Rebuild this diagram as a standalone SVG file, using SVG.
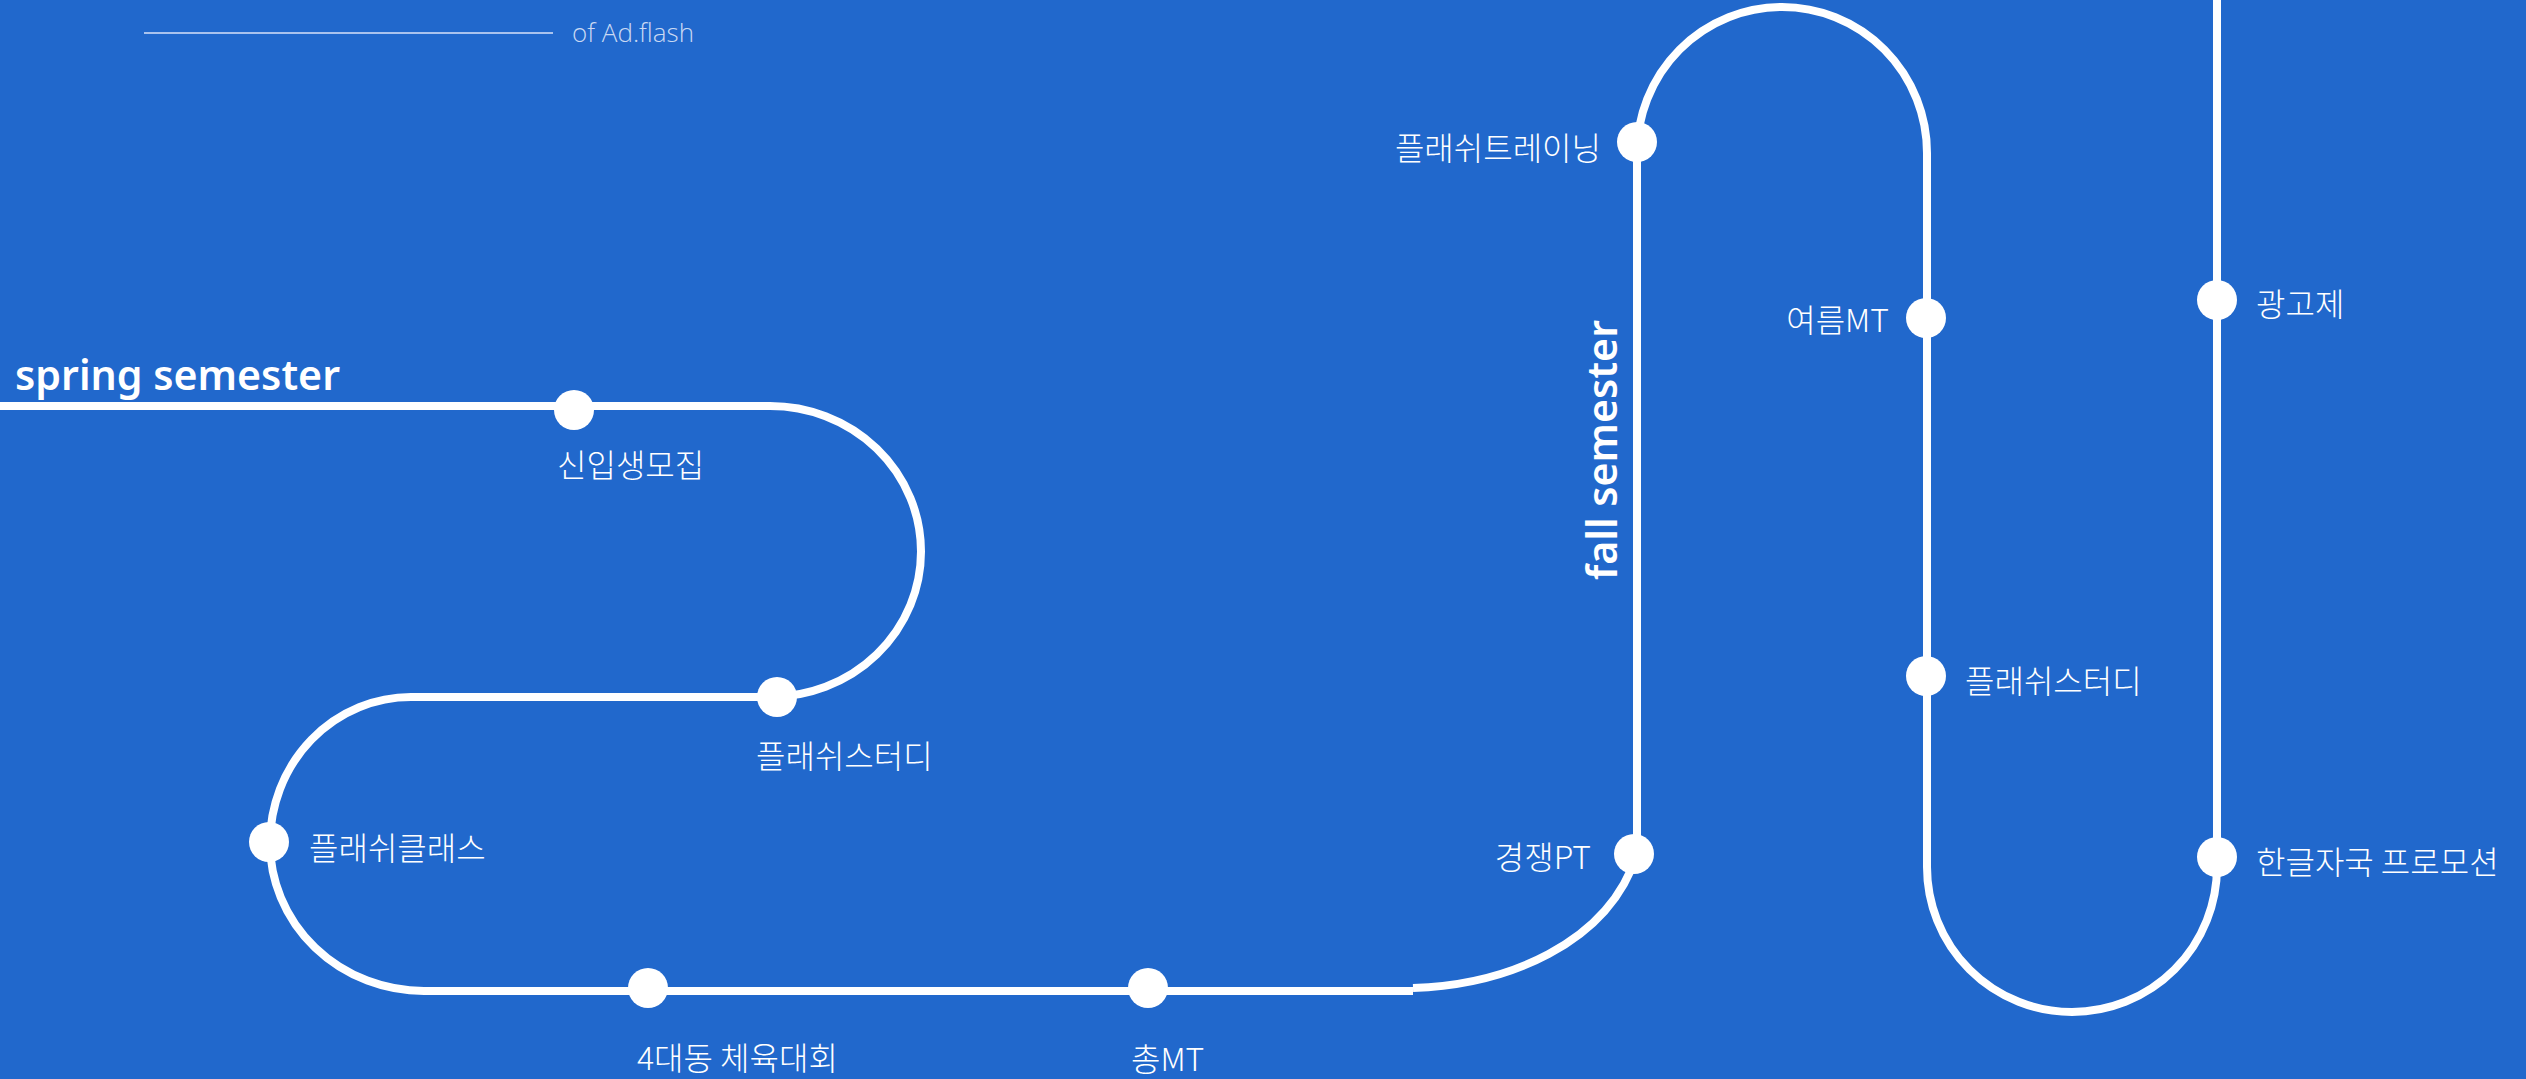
<svg xmlns="http://www.w3.org/2000/svg" width="2526" height="1079" viewBox="0 0 2526 1079">
<style>
.bg{fill:#2168cc}
.track{fill:none;stroke:#fff;stroke-width:8}
.dot{fill:#fff}
.lbl{fill:#fff;font-family:"Noto Sans CJK KR","Noto Sans",sans-serif;font-size:32px;font-weight:300}
.title{fill:#fff;font-family:"Noto Sans","Open Sans",sans-serif;font-size:42px;font-weight:600}
.hdr{fill:#c9d9f3;font-family:"Open Sans","Noto Sans",sans-serif;font-size:26px;font-weight:300}
</style>
<rect class="bg" x="0" y="0" width="2526" height="1079"/>
<g id="header">
<line x1="144" y1="33" x2="553" y2="33" stroke="#a9c3ee" stroke-width="2"/>
<text class="hdr" x="572" y="42" textLength="122" lengthAdjust="spacingAndGlyphs">of Ad.flash</text>
</g>
<g id="connectors">
<path class="track" d="M 0 406 L 770 406 A 151 145.5 0 0 1 770 697 L 411 697 A 141 146 0 0 0 270 843 A 154 148 0 0 0 424 991 L 1413 991"/>
<path class="track" d="M 1413 988 C 1505 985 1608 945 1637 854 L 1637 153 A 145 146 0 0 1 1927 153 L 1927 867 A 145 145 0 0 0 2217 867 L 2217 0"/>
</g>
<g id="spring-title"><text class="title" x="15" y="390" textLength="325" lengthAdjust="spacingAndGlyphs">spring semester</text></g>
<g id="fall-title"><text class="title" transform="translate(1617,580) rotate(-90)" textLength="260" lengthAdjust="spacingAndGlyphs">fall semester</text></g>
<g id="n1"><circle class="dot" cx="574" cy="410" r="20"/><text class="lbl" x="557" y="477">신입생모집</text></g>
<g id="n2"><circle class="dot" cx="777" cy="697" r="20"/><text class="lbl" x="756" y="768">플래쉬스터디</text></g>
<g id="n3"><circle class="dot" cx="269" cy="842" r="20"/><text class="lbl" x="309" y="860">플래쉬클래스</text></g>
<g id="n4"><circle class="dot" cx="648" cy="988" r="20"/><text class="lbl" x="637" y="1070">4대동 체육대회</text></g>
<g id="n5"><circle class="dot" cx="1148" cy="988" r="20"/><text class="lbl" x="1131" y="1071">총MT</text></g>
<g id="n6"><circle class="dot" cx="1634" cy="854" r="20"/><text class="lbl" x="1591" y="869" text-anchor="end">경쟁PT</text></g>
<g id="n7"><circle class="dot" cx="1637" cy="142" r="20"/><text class="lbl" x="1601" y="160" text-anchor="end">플래쉬트레이닝</text></g>
<g id="n8"><circle class="dot" cx="1926" cy="318" r="20"/><text class="lbl" x="1889" y="332" text-anchor="end">여름MT</text></g>
<g id="n9"><circle class="dot" cx="1926" cy="676" r="20"/><text class="lbl" x="1965" y="693">플래쉬스터디</text></g>
<g id="n10"><circle class="dot" cx="2217" cy="300" r="20"/><text class="lbl" x="2256" y="316">광고제</text></g>
<g id="n11"><circle class="dot" cx="2217" cy="857" r="20"/><text class="lbl" x="2256" y="874">한글자국 프로모션</text></g>
</svg>
